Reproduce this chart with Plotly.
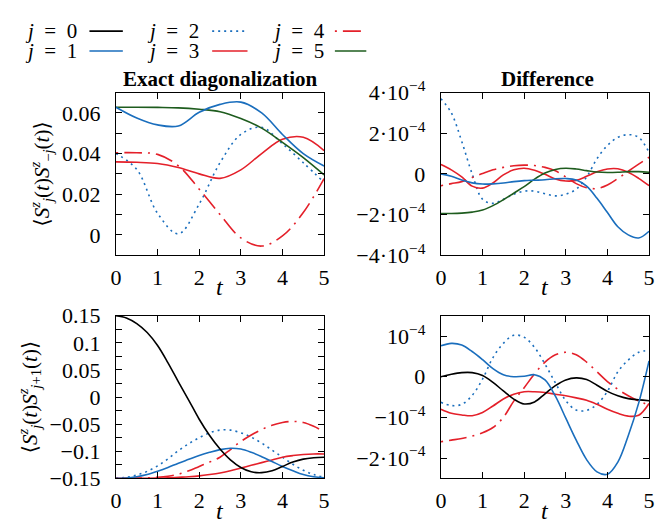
import plotly.graph_objects as go

# ---------------- data ----------------
T_HALF = [0, 0.5, 1, 1.5, 2, 2.5, 3, 3.5, 4, 4.5, 5]
T_Q = [0, 0.25, 0.5, 0.75, 1, 1.25, 1.5, 1.75, 2, 2.25, 2.5, 2.75,
       3, 3.25, 3.5, 3.75, 4, 4.25, 4.5, 4.75, 5]

# Top-left: <S_j S_-j>, exact diagonalization (t on T_HALF)
ed_mj_1 = [0.0628, 0.0575, 0.0541, 0.0536, 0.0603, 0.0642, 0.0653, 0.0600, 0.0494, 0.0400, 0.0339]
ed_mj_2 = [0.0400, 0.0322, 0.0106, 0.0005, 0.0152, 0.0355, 0.0494, 0.0529, 0.0448, 0.0355, 0.0258]
ed_mj_3 = [0.0359, 0.0357, 0.0351, 0.0331, 0.0300, 0.0278, 0.0320, 0.0400, 0.0470, 0.0480, 0.0415]
ed_mj_4 = [0.0404, 0.0404, 0.0396, 0.0340, 0.0225, 0.0100, -0.0015, -0.0055, -0.0005, 0.0110, 0.0277]
ed_mj_5 = [0.0628, 0.0628, 0.0627, 0.0625, 0.0618, 0.0606, 0.0572, 0.0525, 0.0455, 0.0380, 0.0295]

# Top-right: difference for <S_j S_-j> (units of 1e-4, t on T_Q)
df_mj_1 = [0, -0.12, -0.3, -0.44, -0.5, -0.49, -0.45, -0.38, -0.33, -0.31, -0.29, -0.24,
           -0.23, -0.3, -0.6, -1.2, -1.9, -2.6, -3.0, -3.15, -2.82]
df_mj_2 = [3.7, 3.0, 1.6, 0.0, -1.25, -1.45, -1.25, -1.0, -0.85, -0.85, -0.98, -1.08,
           -1.0, -0.75, -0.15, 0.75, 1.4, 1.8, 1.93, 1.8, 1.05]
df_mj_3 = [0.46, 0.2, -0.15, -0.6, -0.7, -0.45, -0.05, 0.2, 0.28, 0.18, -0.02, -0.25,
           -0.35, -0.32, -0.12, 0.1, 0.24, 0.25, 0.08, -0.22, -0.58]
df_mj_4 = [-0.58, -0.48, -0.38, -0.18, 0.02, 0.2, 0.32, 0.4, 0.43, 0.41, 0.32, 0.15,
           -0.15, -0.48, -0.68, -0.72, -0.55, -0.23, 0.13, 0.48, 0.82]
df_mj_5 = [-1.95, -1.95, -1.93, -1.88, -1.78, -1.56, -1.27, -0.95, -0.63, -0.26, 0.04, 0.22,
           0.28, 0.24, 0.16, 0.09, 0.07, 0.08, 0.11, 0.11, 0.08]

# Bottom-left: <S_j S_j+1>, exact diagonalization (t on T_Q)
ed_p1_0 = [0.15, 0.146, 0.1355, 0.119, 0.095, 0.063, 0.028, -0.006, -0.041, -0.071, -0.096, -0.116,
           -0.13, -0.138, -0.1395, -0.136, -0.128, -0.12, -0.1145, -0.112, -0.111]
ed_p1_1 = [-0.15, -0.1495, -0.147, -0.143, -0.137, -0.13, -0.122, -0.115, -0.108, -0.102, -0.097, -0.0945,
           -0.096, -0.102, -0.11, -0.119, -0.128, -0.136, -0.143, -0.147, -0.149]
ed_p1_2 = [-0.15, -0.148, -0.144, -0.137, -0.127, -0.114, -0.099, -0.086, -0.075, -0.066, -0.061, -0.061,
           -0.066, -0.074, -0.085, -0.098, -0.111, -0.124, -0.135, -0.143, -0.148]
ed_p1_3 = [-0.15, -0.15, -0.15, -0.1498, -0.1495, -0.149, -0.148, -0.147, -0.1455, -0.143, -0.14, -0.136,
           -0.131, -0.126, -0.121, -0.116, -0.111, -0.108, -0.106, -0.105, -0.105]
ed_p1_4 = [-0.15, -0.15, -0.1495, -0.149, -0.148, -0.146, -0.1425, -0.136, -0.128, -0.12, -0.111, -0.097,
           -0.082, -0.07, -0.06, -0.052, -0.047, -0.045, -0.047, -0.054, -0.064]

# Bottom-right: difference for <S_j S_j+1> (units of 1e-4, t on T_Q)
df_p1_0 = [0.0, 0.06, 0.1, 0.1, 0.03, -0.14, -0.35, -0.55, -0.67, -0.62, -0.42, -0.22,
           -0.08, -0.03, -0.07, -0.21, -0.36, -0.47, -0.54, -0.57, -0.59]
df_p1_1 = [0.76, 0.82, 0.78, 0.62, 0.42, 0.2, 0.05, 0.0, 0.01, 0.05, -0.08, -0.48,
           -1.02, -1.56, -2.04, -2.34, -2.4, -2.1, -1.45, -0.65, 0.39]
df_p1_2 = [-0.63, -0.71, -0.68, -0.46, -0.06, 0.47, 0.82, 1.02, 0.97, 0.72, 0.31, -0.15,
           -0.59, -0.82, -0.83, -0.68, -0.36, 0.12, 0.41, 0.6, 0.65]
df_p1_3 = [-0.8, -0.9, -0.94, -0.96, -0.88, -0.72, -0.55, -0.43, -0.37, -0.37, -0.39, -0.43,
           -0.47, -0.52, -0.58, -0.68, -0.8, -0.9, -0.97, -0.95, -0.66]
df_p1_4 = [-1.6, -1.56, -1.52, -1.46, -1.38, -1.25, -1.0, -0.6, -0.27, 0.07, 0.36, 0.54,
           0.6, 0.54, 0.36, 0.12, -0.12, -0.31, -0.47, -0.6, -0.7]

SCALE = 1e-4

# tick values / labels
x_ticks = [0, 1, 2, 3, 4, 5]
tl_vals = [0, 0.02, 0.04, 0.06]
tl_text = ["0", "0.02", "0.04", "0.06"]
tl_minor = [-0.01, 0.01, 0.03, 0.05, 0.07]
tr_vals = [-4e-4, -2e-4, 0, 2e-4, 4e-4]
tr_text = ["−4·10<sup>−4</sup>", "−2·10<sup>−4</sup>", "0", "2·10<sup>−4</sup>", "4·10<sup>−4</sup>"]
bl_vals = [-0.15, -0.1, -0.05, 0, 0.05, 0.1, 0.15]
bl_text = ["−0.15", "−0.1", "−0.05", "0", "0.05", "0.1", "0.15"]
bl_minor = [-0.125, -0.075, -0.025, 0.025, 0.075, 0.125]
br_vals = [-2e-4, -1e-4, 0, 1e-4]
br_text = ["−2·10<sup>−4</sup>", "−10<sup>−4</sup>", "0", "10<sup>−4</sup>"]

# ---------------- styles ----------------
BLUE = "#1a6ebd"
RED = "#e4202a"
GREEN = "#1e5c1e"
BLACK = "#000000"
DOT = "2px,4px"
DASHDOT = "2px,6px,18px,6px"
STYLE = {0: (BLACK, "solid"), 1: (BLUE, "solid"), 2: (BLUE, DOT),
         3: (RED, "solid"), 4: (RED, DASHDOT), 5: (GREEN, "solid")}
FONT = "'Liberation Serif', 'DejaVu Serif', serif"
LW = 1.6

fig = go.Figure()


def add(t, y, j, xa, ya, scale=1.0):
    c, d = STYLE[j]
    fig.add_trace(go.Scatter(
        x=t, y=[v * scale for v in y], mode="lines",
        line=dict(color=c, dash=d, width=LW, shape="spline", smoothing=1.0),
        xaxis=xa, yaxis=ya, showlegend=False, hoverinfo="skip"))


for j, y in [(2, ed_mj_2), (4, ed_mj_4), (3, ed_mj_3), (5, ed_mj_5), (1, ed_mj_1)]:
    add(T_HALF, y, j, "x", "y")
for j, y in [(2, df_mj_2), (4, df_mj_4), (3, df_mj_3), (5, df_mj_5), (1, df_mj_1)]:
    add(T_Q, y, j, "x2", "y2", SCALE)
for j, y in [(2, ed_p1_2), (4, ed_p1_4), (3, ed_p1_3), (1, ed_p1_1), (0, ed_p1_0)]:
    add(T_Q, y, j, "x3", "y3")
for j, y in [(2, df_p1_2), (4, df_p1_4), (3, df_p1_3), (0, df_p1_0), (1, df_p1_1)]:
    add(T_Q, y, j, "x4", "y4", SCALE)

W, H = 658, 532
XL = [112 / W, 324 / W]
XR = [443 / W, 655 / W]
YT = [1 - 253 / H, 1 - 81 / H]
YB = [1 - 489 / H, 1 - 317 / H]

tickfont = dict(family=FONT, size=22, color="black")
common = dict(showline=True, linecolor="black", linewidth=1.3, mirror="ticks",
              ticks="inside", ticklen=6, tickwidth=1.2, tickcolor="black",
              showgrid=False, zeroline=False, tickfont=tickfont)

xt = dict(range=[0, 5], tickvals=x_ticks, ticktext=[str(v) for v in x_ticks], ticklabelstandoff=2)


def minor(vals):
    return dict(tickvals=vals, ticks="inside", ticklen=6, tickwidth=1.2, tickcolor="black", showgrid=False)


ylab_mj = ("⟨<i>S</i><sup><i>z</i></sup><sub><i>j</i></sub>(<i>t</i>)"
           "<i>S</i><sup><i>z</i></sup><sub>−<i>j</i></sub>(<i>t</i>)⟩")
ylab_p1 = ("⟨<i>S</i><sup><i>z</i></sup><sub><i>j</i></sub>(<i>t</i>)"
           "<i>S</i><sup><i>z</i></sup><sub><i>j</i>+1</sub>(<i>t</i>)⟩")

YSO = 10

fig.update_layout(
    width=W, height=H, margin=dict(l=0, r=0, t=0, b=0),
    paper_bgcolor="white", plot_bgcolor="white",
    font=dict(family=FONT, size=22, color="black"),
    xaxis=dict(domain=XL, anchor="y", **xt, **common),
    yaxis=dict(domain=YT, anchor="x", range=[-0.01, 0.07], tickvals=tl_vals, ticktext=tl_text,
               minor=minor(tl_minor), ticklabelstandoff=YSO,
               title=dict(text=ylab_mj, font=dict(family=FONT, size=21), standoff=6), **common),
    xaxis2=dict(domain=XR, anchor="y2", **xt, **common),
    yaxis2=dict(domain=YT, anchor="x2", range=[-4e-4, 4e-4], tickvals=tr_vals, ticktext=tr_text,
                ticklabelstandoff=YSO, **common),
    xaxis3=dict(domain=XL, anchor="y3", **xt, **common),
    yaxis3=dict(domain=YB, anchor="x3", range=[-0.15, 0.15], tickvals=bl_vals, ticktext=bl_text,
                minor=minor(bl_minor), ticklabelstandoff=YSO,
                title=dict(text=ylab_p1, font=dict(family=FONT, size=21), standoff=6), **common),
    xaxis4=dict(domain=XR, anchor="y4", **xt, **common),
    yaxis4=dict(domain=YB, anchor="x4", range=[-2.5e-4, 1.5e-4], tickvals=br_vals, ticktext=br_text,
                ticklabelstandoff=YSO, **common),
)

ann = []
ann.append(dict(text="<b>Exact diagonalization</b>", x=218 / W, y=1 - 67 / H, xref="paper", yref="paper",
                showarrow=False, font=dict(family=FONT, size=21), xanchor="center", yanchor="middle"))
ann.append(dict(text="<b>Difference</b>", x=552 / W, y=1 - 67 / H, xref="paper", yref="paper",
                showarrow=False, font=dict(family=FONT, size=21), xanchor="center", yanchor="middle"))
for xc, yc in [(218, 287), (549, 287), (218, 524), (549, 524)]:
    ann.append(dict(text="<i>t</i>", x=xc / W, y=1 - yc / H, xref="paper", yref="paper",
                    showarrow=False, font=dict(family=FONT, size=24), xanchor="center", yanchor="middle"))

# manual legend: label first, then the line sample
legend_items = [(0, 18, 16, 85, 119), (1, 18, 37, 85, 119),
                (2, 143, 16, 210, 246), (3, 143, 37, 210, 246),
                (4, 270, 16, 335, 367), (5, 270, 37, 335, 367)]
shapes = []
for j, tx, ty, l0, l1 in legend_items:
    ann.append(dict(text=f"<i>j</i>\u2002=\u2002{j}", x=tx / W, y=1 - ty / H, xref="paper", yref="paper",
                    showarrow=False, font=dict(family=FONT, size=21), xanchor="left", yanchor="middle",
                    borderpad=0))
    c, d = STYLE[j]
    shapes.append(dict(type="line", xref="paper", yref="paper", x0=l0 / W, x1=l1 / W,
                       y0=1 - ty / H, y1=1 - ty / H, line=dict(color=c, dash=d, width=LW)))

fig.update_layout(annotations=ann, shapes=shapes)
fig.write_html("out.html")
